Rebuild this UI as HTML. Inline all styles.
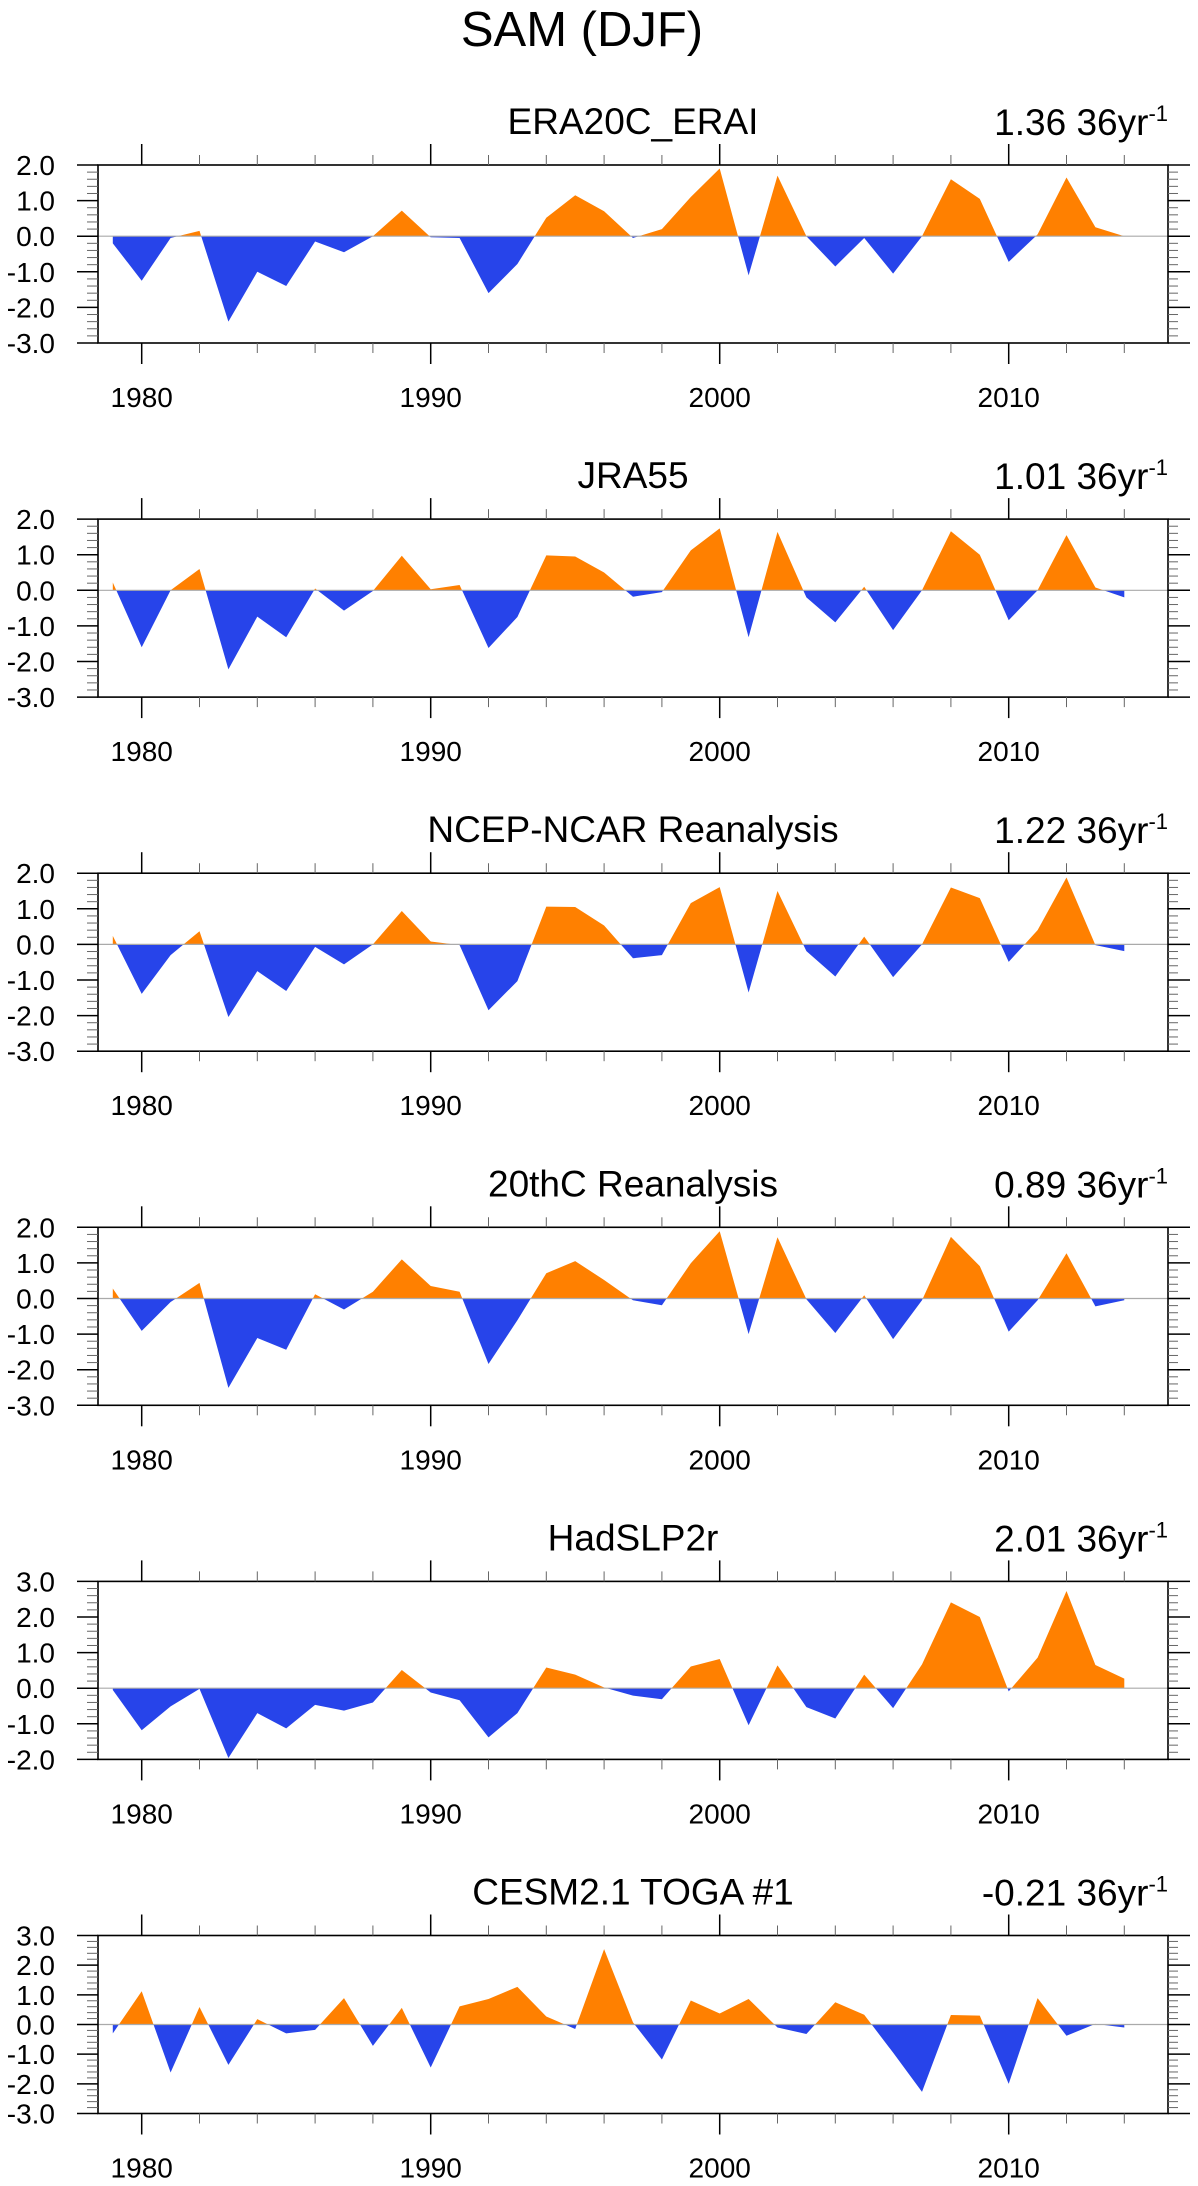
<!DOCTYPE html>
<html><head><meta charset="utf-8">
<style>
html,body{margin:0;padding:0;background:#fff;}
svg{display:block;font-family:"Liberation Sans",sans-serif;}
</style></head>
<body>
<svg id="chart" width="1198" height="2186" viewBox="0 0 1198 2186" xmlns="http://www.w3.org/2000/svg">
<text x="582" y="46" font-size="49" text-anchor="middle" fill="#000">SAM (DJF)</text>
</svg>
<script>
const years = [1979,1980,1981,1982,1983,1984,1985,1986,1987,1988,1989,1990,1991,1992,1993,1994,1995,1996,1997,1998,1999,2000,2001,2002,2003,2004,2005,2006,2007,2008,2009,2010,2011,2012,2013,2014];
const panelTitles = ["ERA20C_ERAI","JRA55","NCEP-NCAR Reanalysis","20thC Reanalysis","HadSLP2r","CESM2.1 TOGA #1"];
const trendLabels = ["1.36","1.01","1.22","0.89","2.01","-0.21"];
const yRanges = [[-3,2],[-3,2],[-3,2],[-3,2],[-2,3],[-3,3]];
const xTickYears = [1980,1990,2000,2010];
const era20c = [-0.2,-1.25,-0.05,0.15,-2.4,-1.0,-1.4,-0.15,-0.45,0.0,0.72,-0.03,-0.05,-1.6,-0.78,0.52,1.15,0.7,-0.05,0.2,1.1,1.9,-1.1,1.7,0.0,-0.85,-0.05,-1.05,0.0,1.6,1.05,-0.72,0.05,1.65,0.25,0.0];
const jra55 = [0.22,-1.6,0.0,0.6,-2.22,-0.74,-1.32,0.05,-0.57,-0.02,0.97,0.03,0.15,-1.62,-0.75,0.98,0.95,0.5,-0.18,-0.05,1.12,1.74,-1.32,1.64,-0.2,-0.9,0.1,-1.12,0.0,1.66,1.0,-0.84,0.0,1.55,0.08,-0.2];
const ncep = [0.24,-1.39,-0.3,0.37,-2.04,-0.75,-1.31,-0.07,-0.56,0.0,0.94,0.08,-0.02,-1.85,-1.03,1.06,1.05,0.53,-0.39,-0.3,1.16,1.61,-1.35,1.5,-0.19,-0.9,0.22,-0.92,0.0,1.6,1.3,-0.49,0.4,1.88,-0.02,-0.19];
const c20 = [0.28,-0.91,-0.1,0.44,-2.51,-1.11,-1.44,0.12,-0.31,0.19,1.1,0.35,0.19,-1.84,-0.61,0.71,1.05,0.52,-0.05,-0.19,0.99,1.89,-1.0,1.72,-0.02,-0.97,0.09,-1.14,-0.05,1.73,0.91,-0.93,-0.05,1.27,-0.22,-0.05];
const hadslp = [-0.05,-1.18,-0.51,-0.02,-1.96,-0.7,-1.13,-0.47,-0.63,-0.4,0.51,-0.12,-0.34,-1.38,-0.7,0.58,0.38,0.02,-0.21,-0.31,0.61,0.82,-1.04,0.64,-0.53,-0.85,0.38,-0.56,0.67,2.41,2.0,-0.09,0.86,2.73,0.65,0.27];
const cesm = [-0.3,1.12,-1.62,0.59,-1.36,0.18,-0.3,-0.18,0.89,-0.72,0.56,-1.45,0.61,0.86,1.27,0.27,-0.15,2.54,0.07,-1.18,0.81,0.37,0.86,-0.1,-0.32,0.75,0.33,-0.95,-2.27,0.32,0.3,-2.0,0.89,-0.38,0.02,-0.1];
const series = [era20c,jra55,ncep,c20,hadslp,cesm];

const NS = "http://www.w3.org/2000/svg";
const svg = document.getElementById("chart");
const L = 98, R = 1168, H = 178, TOP0 = 165, STEP = 354.1;
const xScale = yr => 141.7 + 28.9 * (yr - 1980);
function mk(tag, attrs, parent){
  const e = document.createElementNS(NS, tag);
  for (const k in attrs) e.setAttribute(k, attrs[k]);
  (parent || svg).appendChild(e);
  return e;
}
series.forEach((vals, p) => {
  const top = TOP0 + p * STEP, bot = top + H;
  const [ymin, ymax] = yRanges[p];
  const yScale = v => top + (ymax - v) / (ymax - ymin) * H;
  const y0 = yScale(0);
  const g = mk("g", {});
  
  
  // clip paths
  const cu = mk("clipPath", {id: "cu" + p}, g);
  mk("rect", {x: L, y: top, width: R - L, height: y0 - top}, cu);
  const cd = mk("clipPath", {id: "cd" + p}, g);
  mk("rect", {x: L, y: y0, width: R - L, height: bot - y0}, cd);
  let d = "M" + xScale(years[0]) + "," + y0;
  vals.forEach((v, i) => { d += " L" + xScale(years[i]).toFixed(2) + "," + yScale(v).toFixed(2); });
  d += " L" + xScale(years[years.length - 1]) + "," + y0 + " Z";
  const pos = mk("path", {d: d, fill: "#ff8000", "clip-path": "url(#cu" + p + ")"}, g);
  
  
  const neg = mk("path", {d: d, fill: "#2744ea", "clip-path": "url(#cd" + p + ")"}, g);
  
  
  const zl = mk("line", {x1: L, x2: R, y1: y0, y2: y0, stroke: "#aaa", "stroke-width": 1.2}, g);
  
  
  // frame
  const fr = mk("rect", {x: L, y: top, width: R - L, height: H, fill: "none", stroke: "#000", "stroke-width": 1.6}, g);
  
  
  // y ticks
  for (let k = 0; k <= (ymax - ymin) * 5; k++) {
    const v = ymin + k * 0.2;
    const y = yScale(v);
    const major = k % 5 === 0;
    mk("line", {x1: major ? 77 : 87, x2: L, y1: y, y2: y, stroke: major ? "#000" : "#666", "stroke-width": major ? 1.5 : 1}, g);
    mk("line", {x1: R, x2: major ? 1190 : 1178, y1: y, y2: y, stroke: major ? "#000" : "#666", "stroke-width": major ? 1.5 : 1}, g);
    if (major) {
      const t = mk("text", {x: 55, y: y + 10, "font-size": 28, "text-anchor": "end", fill: "#000"}, g);
      
      
      t.textContent = v.toFixed(1);
    }
  }
  // x ticks
  for (let yr = 1980; yr <= 2014; yr += 2) {
    const x = xScale(yr);
    const major = yr % 10 === 0;
    mk("line", {x1: x, x2: x, y1: top - (major ? 21 : 10), y2: top, stroke: major ? "#000" : "#666", "stroke-width": major ? 1.5 : 1}, g);
    mk("line", {x1: x, x2: x, y1: bot, y2: bot + (major ? 21 : 10), stroke: major ? "#000" : "#666", "stroke-width": major ? 1.5 : 1}, g);
  }
  xTickYears.forEach(yr => {
    const t = mk("text", {x: xScale(yr), y: bot + 64, "font-size": 28, "text-anchor": "middle", fill: "#000"}, g);
    
    
    t.textContent = yr;
  });
  const tt = mk("text", {x: 633, y: top - 31, "font-size": 37, "text-anchor": "middle", fill: "#000"}, g);
  
  
  tt.textContent = panelTitles[p];
  const tr = mk("text", {x: 1168, y: top - 30, "font-size": 37, "text-anchor": "end", fill: "#000"}, g);
  
  
  tr.textContent = trendLabels[p] + " 36yr";
  const sup = mk("tspan", {dy: -14, "font-size": 22}, tr);
  sup.textContent = "-1";
});
</script>
</body></html>
